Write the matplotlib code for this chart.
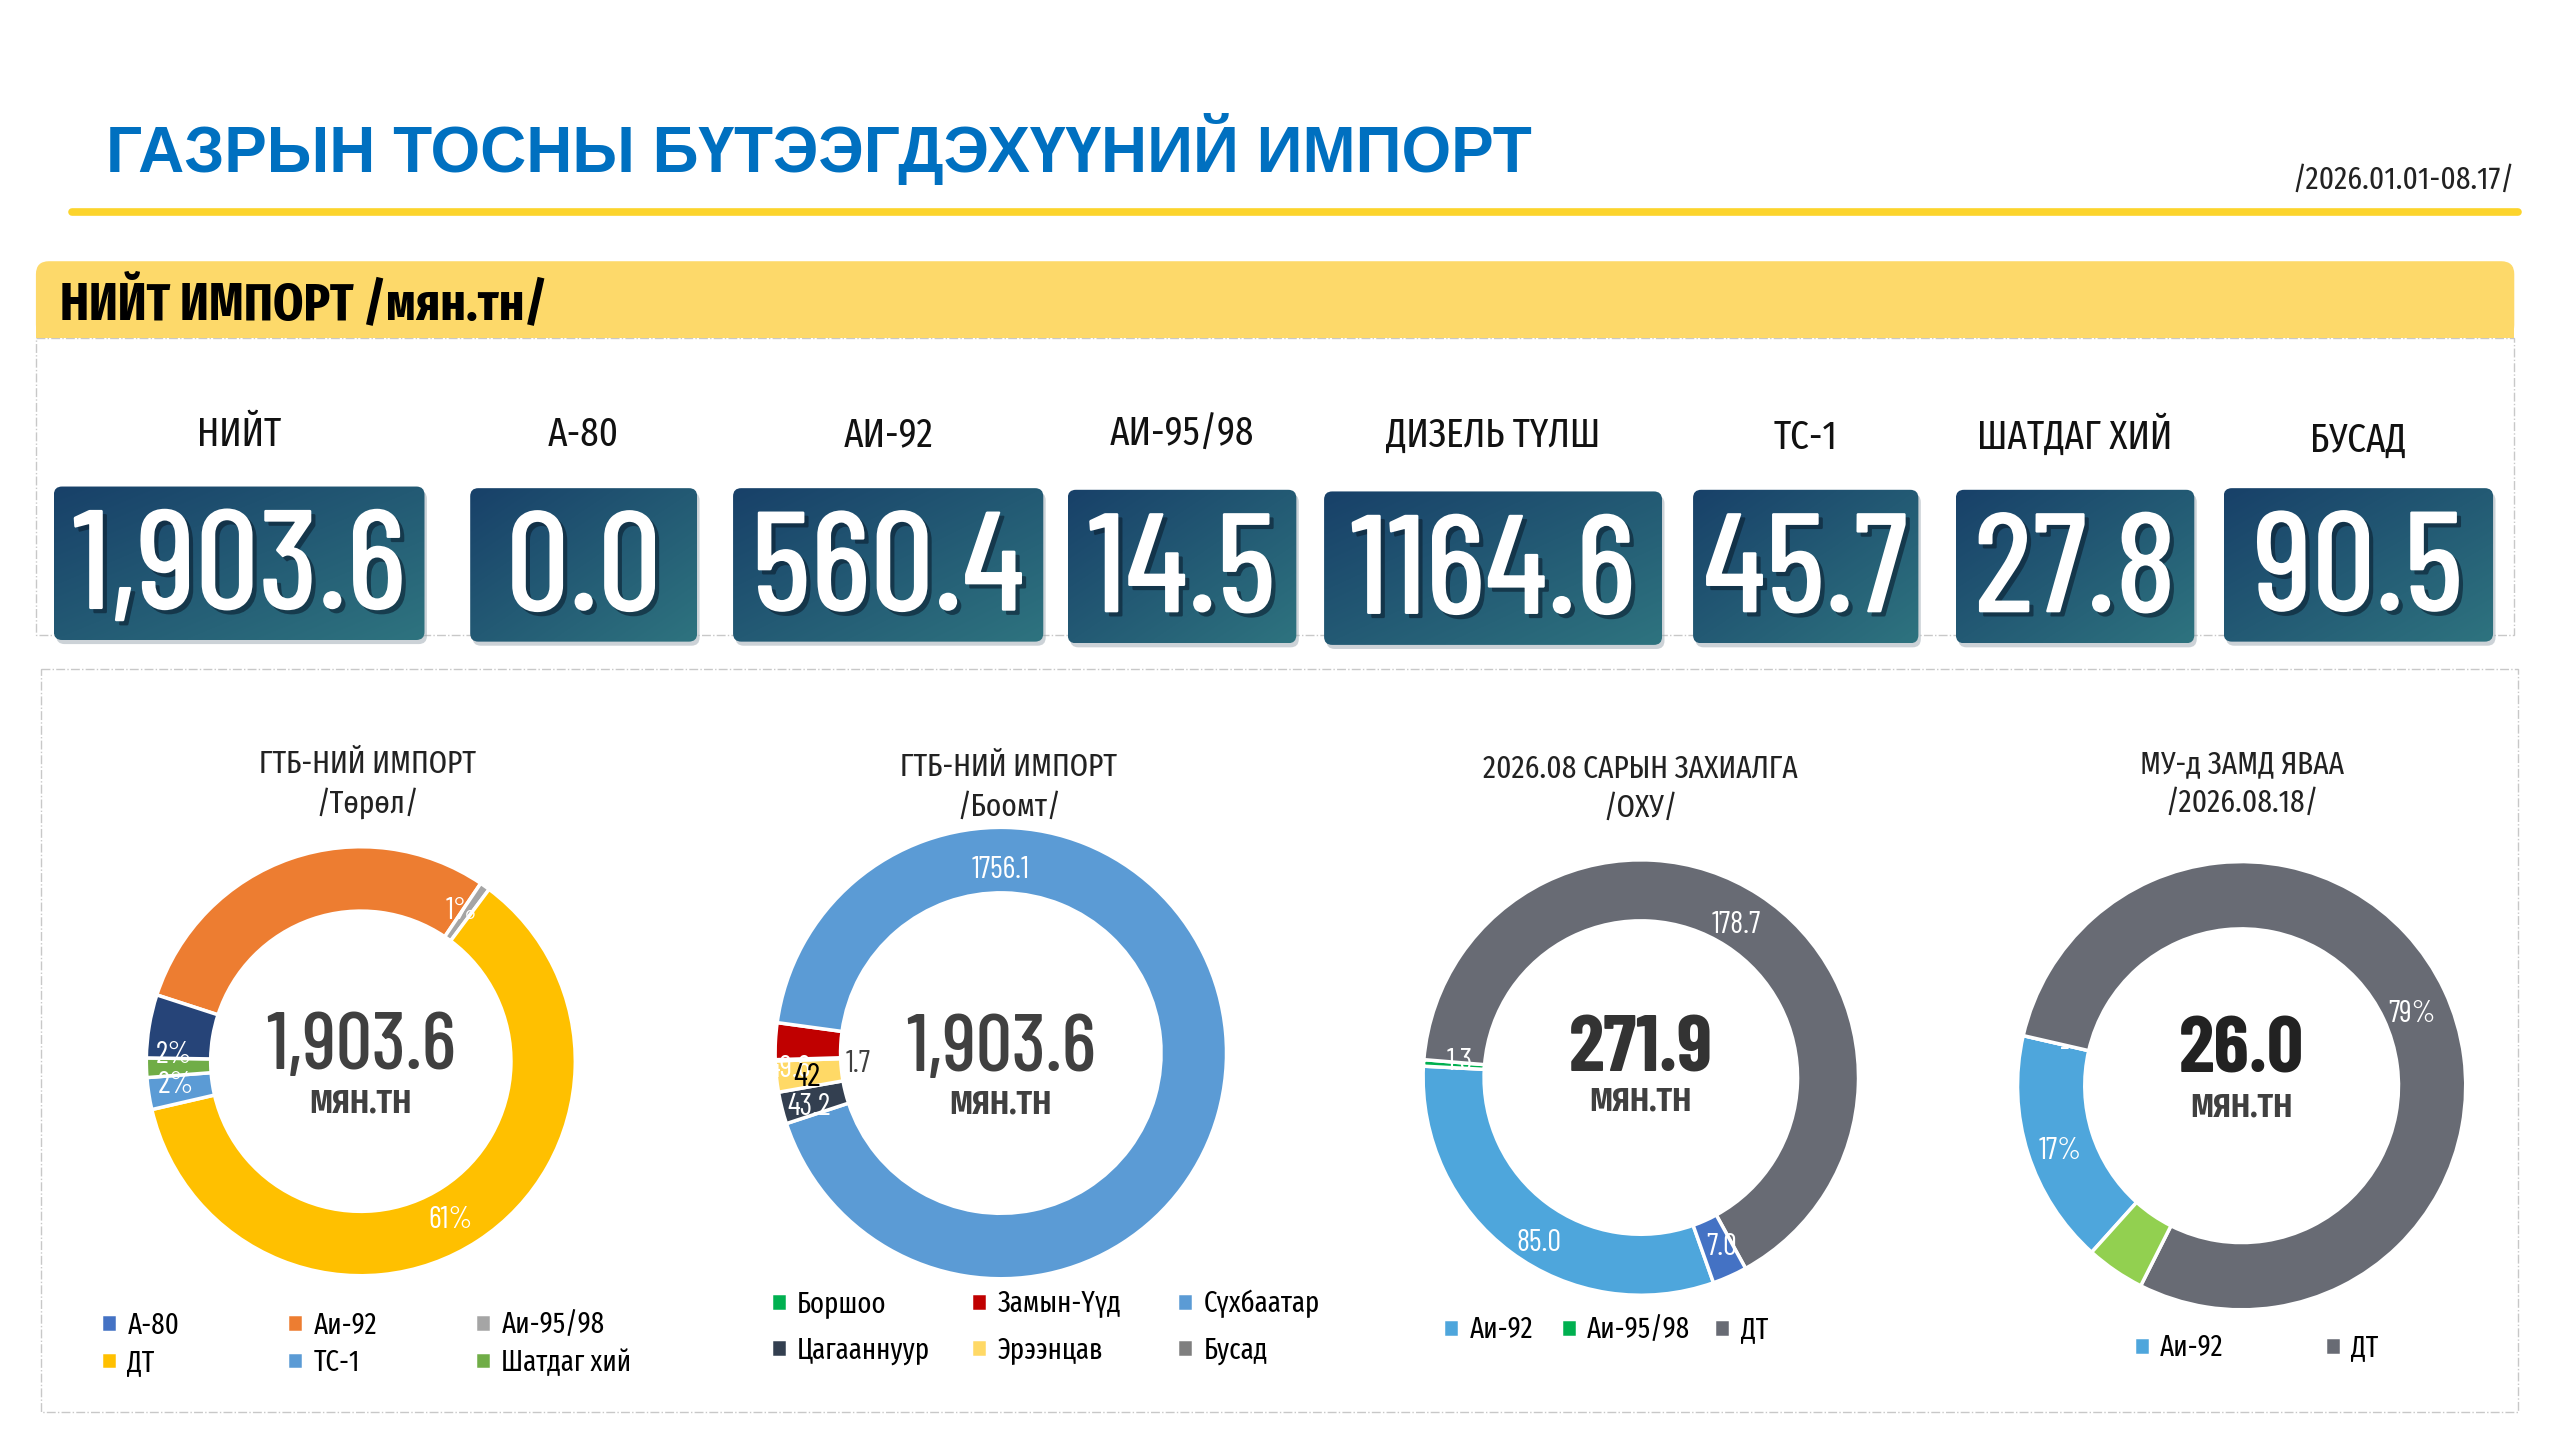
import numpy as np
import matplotlib
matplotlib.use("Agg")
import matplotlib.pyplot as plt
from matplotlib.patches import FancyBboxPatch, Rectangle
from matplotlib.colors import LinearSegmentedColormap
import matplotlib.patheffects as pe

# condensed faces, DejaVu as backup for missing glyphs
COND = ['Fira Sans Condensed', 'DejaVu Sans']
XCOND = ['Fira Sans Extra Condensed', 'Fira Sans Condensed', 'DejaVu Sans']
NUM = ['Barlow Condensed', 'Fira Sans Extra Condensed', 'DejaVu Sans']
WIDE = ['Liberation Sans', 'DejaVu Sans']

# ---- data ----
title = "ГАЗРЫН ТОСНЫ БҮТЭЭГДЭХҮҮНИЙ ИМПОРТ"
period = "/2026.01.01-08.17/"
header = "НИЙТ ИМПОРТ /мян.тн/"

kpi_labels = ["НИЙТ", "А-80", "АИ-92", "АИ-95/98", "ДИЗЕЛЬ ТҮЛШ", "ТС-1", "ШАТДАГ ХИЙ", "БУСАД"]
kpi_values = ["1,903.6", "0.0", "560.4", "14.5", "1164.6", "45.7", "27.8", "90.5"]

# donut 1 - by type
type_names = ["А-80", "Аи-92", "Аи-95/98", "ДТ", "ТС-1", "Шатдаг хий", "Бусад"]
type_values = [0.0, 560.4, 14.5, 1164.6, 45.7, 27.8, 90.5]
type_colors = ["#4472C4", "#ED7D31", "#A5A5A5", "#FFC000", "#5B9BD5", "#70AD47", "#264478"]
type_labels = ["", "", "1%", "61%", "2%", "2%", ""]

# donut 2 - by border port
port_names = ["Боршоо", "Замын-Үүд", "Сүхбаатар", "Цагааннуур", "Эрээнцав", "Бусад"]
port_values = [1.7, 49.6, 1756.1, 43.2, 42.0, 0.0]
port_colors = ["#00B050", "#C00000", "#5B9BD5", "#333F50", "#FFD966", "#7F7F7F"]
port_labels = ["1.7", "49.6", "1756.1", "43.2", "42", ""]

# donut 3 - August order (Russia)
order_names = ["Аи-92", "Аи-95/98", "ДТ", "Бусад"]
order_values = [85.0, 1.3, 178.7, 7.0]
order_colors = ["#4EA6DC", "#00B050", "#686B74", "#4472C4"]
order_labels = ["85.0", "1.3", "178.7", "7.0"]

# donut 4 - on the way
road_names = ["Аи-92", "Аи-95/98", "ДТ", "Бусад"]
road_values = [4.4, 0.0, 20.5, 1.1]
road_colors = ["#4EA6DC", "#00B050", "#686B74", "#92D050"]
road_labels = ["17%", "-", "79%", ""]

centers = ["1,903.6", "1,903.6", "271.9", "26.0"]
donut_titles = [("ГТБ-НИЙ ИМПОРТ", "/Төрөл/"), ("ГТБ-НИЙ ИМПОРТ", "/Боомт/"),
                ("2026.08 САРЫН ЗАХИАЛГА", "/ОХУ/"), ("МУ-д ЗАМД ЯВАА", "/2026.08.18/")]

# ---- canvas in reference "display" pixels ----
W, H = 1568, 882
fig = plt.figure(figsize=(25.6, 14.4), dpi=100)
ax = fig.add_axes([0, 0, 1, 1])
ax.set_axis_off()


def fx(x):
    return x / W


def fy(y):
    return 1 - y / H


# title + underline
ax.text(65, 91, title, fontsize=46, fontweight='bold', color='#0070C0', family=WIDE, va='center')
ax.text(1540, 110, period, fontsize=23, color='#222222', family=XCOND, ha='right', va='center')
ax.plot([44, 1542], [130, 130], color='#FCD42C', lw=5.5, solid_capstyle='round')

# header band
band = FancyBboxPatch((22, 160), 1518, 47, boxstyle='round,pad=0,rounding_size=8',
                      fc='#FDD96A', ec='none', zorder=1)
ax.add_patch(band)
ax.add_patch(Rectangle((22, 190), 1518, 17, fc='#FDD96A', ec='none', zorder=1))
ax.text(37, 186, header, fontsize=38, fontweight='bold', color='black', family=XCOND, va='center')

# dashed panels
ax.add_patch(Rectangle((22, 207), 1518, 182, fill=False, ec='#C8C8C8', lw=1, ls='-.', zorder=0))
ax.add_patch(Rectangle((25, 410), 1517, 455, fill=False, ec='#C8C8C8', lw=1, ls='-.', zorder=0))

# KPI boxes
boxes = [(33, 298, 227), (288, 299, 139), (449, 299, 190), (654, 300, 140),
         (811, 301, 207), (1037, 300, 138), (1198, 300, 146), (1362, 299, 165)]
label_y = [266, 266, 266, 266, 267, 268, 267, 270]
cmap = LinearSegmentedColormap.from_list('kpi', ['#184169', '#2E737F'])
gi, gj = np.mgrid[0:50, 0:50]
grad = (gi + gj) / 98.0
for (x0, y0, w), lab, val, ly in zip(boxes, kpi_labels, kpi_values, label_y):
    h = 94
    sh = FancyBboxPatch((x0 + 1.5, y0 + 2.5), w, h, boxstyle='round,pad=0,rounding_size=5',
                        fc='#9AA7B0', ec='none', alpha=0.5, zorder=1)
    ax.add_patch(sh)
    p = FancyBboxPatch((x0, y0), w, h, boxstyle='round,pad=0,rounding_size=5',
                       fc='none', ec='none', zorder=2)
    ax.add_patch(p)
    im = ax.imshow(grad, extent=(x0, x0 + w, y0 + h, y0), origin='upper', cmap=cmap,
                   interpolation='bilinear', aspect='auto', zorder=2)
    im.set_clip_path(p)
    ax.text(x0 + w / 2, ly, lab, fontsize=29, color='#111111', family=XCOND, ha='center', va='center')
    ax.text(x0 + w / 2, y0 + h / 2 + 6, val, fontsize=102, fontweight='medium', color='white', family=NUM,
            ha='center', va='center', zorder=3,
            path_effects=[pe.withSimplePatchShadow(offset=(3, -3), shadow_rgbFace='#0b1f30', alpha=0.6)])

ax.set_xlim(0, W)
ax.set_ylim(H, 0)

# ---- donuts ----
# legend: one column per list, x of each column, top y, row gap
donuts = [
    dict(c=(221, 650), r=134, width=0.30, start=162, vals=type_values, cols=type_colors,
         names=type_names, labels=type_labels,
         lpos=[None, None, (0.47, 0.70), (0.42, -0.74), (-0.86, -0.11), (-0.87, 0.03), None],
         lcol=['white'] * 7, lsize=[22] * 7,
         cfont=('medium', '#404040'), cy=(0.06, -0.20), tpos=(225, 468),
         leg=dict(cols=[[0, 3], [1, 4], [2, 5]], xs=[62, 176, 291], y=803, gap=0.3)),
    dict(c=(613, 645), r=141, width=0.29, start=-178, vals=port_values, cols=port_colors,
         names=port_names, labels=port_labels,
         lpos=[(-0.63, -0.05), (-0.94, -0.07), (0.0, 0.81), (-0.85, -0.24), (-0.86, -0.11), None],
         lcol=['#404040', 'white', 'white', 'white', 'black', 'white'], lsize=[22, 22, 22, 22, 24, 22],
         cfont=('medium', '#404040'), cy=(0.01, -0.23), tpos=(618, 470),
         leg=dict(cols=[[0, 3], [1, 4], [2, 5]], xs=[472, 595, 721], y=790, gap=0.6)),
    dict(c=(1005, 660), r=136, width=0.28, start=-70.5, vals=order_values, cols=order_colors,
         names=order_names, labels=order_labels,
         lpos=[(-0.47, -0.76), (-0.83, 0.07), (0.44, 0.70), (0.37, -0.78)],
         lcol=['white'] * 4, lsize=[22] * 4,
         cfont=('bold', '#333333'), cy=(0.12, -0.11), tpos=(1005, 471),
         leg=dict(cols=[[0], [1], [2]], xs=[884, 956, 1050], y=806, gap=0.2)),
    dict(c=(1373, 665), r=140, width=0.30, start=-132, vals=road_values, cols=road_colors,
         names=road_names, labels=road_labels,
         lpos=[(-0.81, -0.29), (-0.79, 0.16), (0.76, 0.32), None],
         lcol=['white'] * 4, lsize=[22] * 4,
         cfont=('bold', '#222222'), cy=(0.15, -0.10), tpos=(1373, 468),
         leg=dict(cols=[[0], [2]], xs=[1307, 1424], y=817, gap=0.2)),
]

for d, ctext, (t1, t2) in zip(donuts, centers, donut_titles):
    cx, cy = d['c']
    r = d['r']
    pax = fig.add_axes([fx(cx - r), fy(cy + r), 2 * r / W, 2 * r / H])
    wedges, _ = pax.pie(d['vals'], colors=d['cols'], startangle=d['start'], counterclock=False,
                        radius=1, wedgeprops=dict(width=d['width'], edgecolor='white', linewidth=2.5))
    pax.set_xlim(-1.02, 1.02)
    pax.set_ylim(-1.02, 1.02)
    pax.set_aspect('equal')
    pax.set_axis_off()
    for lab, pos, col, s in zip(d['labels'], d['lpos'], d['lcol'], d['lsize']):
        if lab and pos is not None:
            pax.text(pos[0], pos[1], lab, fontsize=s, color=col, family=NUM, ha='center', va='center')
    weight, ccol = d['cfont']
    pax.text(0, d['cy'][0], ctext, fontsize=58, fontweight=weight, color=ccol, family=NUM,
             ha='center', va='center')
    pax.text(0, d['cy'][1], "МЯН.ТН", fontsize=23, fontweight='bold', color='#404040', family=COND,
             ha='center', va='center')
    tx, ty = d['tpos']
    ax.text(tx, ty, t1, fontsize=23, color='#222222', family=XCOND, ha='center', va='center')
    ax.text(tx, ty + 24, t2, fontsize=23, color='#222222', family=XCOND, ha='center', va='center')
    lg = d['leg']
    for idx, x in zip(lg['cols'], lg['xs']):
        fig.legend([wedges[i] for i in idx], [d['names'][i] for i in idx], loc='upper left',
                   bbox_to_anchor=(fx(x), fy(lg['y'])), ncol=1,
                   frameon=False, handlelength=0.55, handleheight=0.55, handletextpad=0.35,
                   labelspacing=lg['gap'], prop=dict(family=XCOND, size=21),
                   borderaxespad=0, borderpad=0)

fig.savefig("out.png", dpi=100, facecolor='white')
